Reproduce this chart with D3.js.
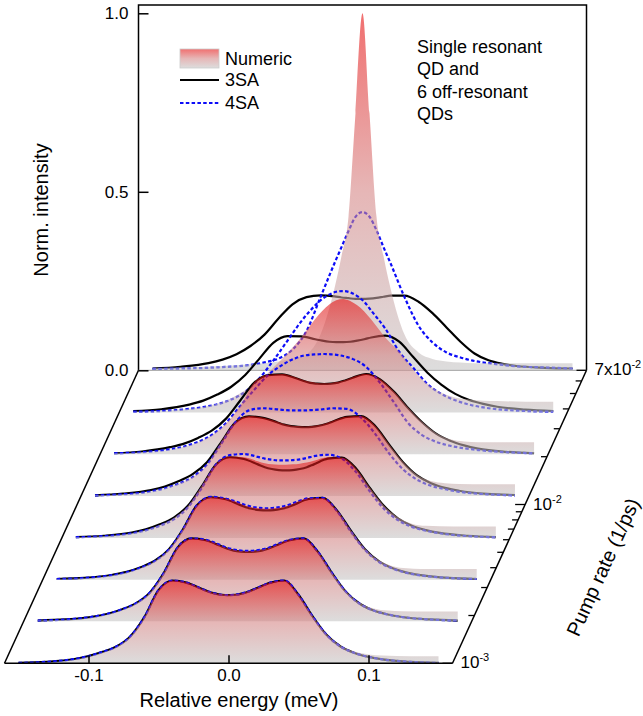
<!DOCTYPE html>
<html>
<head>
<meta charset="utf-8">
<script src="https://cdn.jsdelivr.net/npm/d3@7"></script>
<style>
  body { margin: 0; background: #fff; }
  svg text { font-family: "Liberation Sans", Arial, sans-serif; fill: #000; }
</style>
</head>
<body>
<svg id="chart" width="643" height="716"></svg>
<script>
// relative energy grid (meV) shared by every spectrum
const energies = [-0.15, -0.13, -0.11, -0.10, -0.09, -0.08, -0.07, -0.06, -0.05, -0.04, -0.03, -0.02, -0.015, -0.01, -0.005,
  0, 0.005, 0.01, 0.015, 0.02, 0.03, 0.04, 0.05, 0.06, 0.07, 0.08, 0.09, 0.10, 0.11, 0.13, 0.15];

// pump rates (1/ps), front trace first
const pumpRates = [0.001, 0.00184, 0.00336, 0.00616, 0.0113, 0.0207, 0.038, 0.07];

const numericSpectra = [
  [0.001, 0.003, 0.01, 0.018, 0.03, 0.046, 0.075, 0.13, 0.205, 0.232, 0.227, 0.211, 0.203, 0.197, 0.194, 0.193, 0.194, 0.197, 0.203, 0.211, 0.227, 0.232, 0.193, 0.133, 0.082, 0.05, 0.033, 0.025, 0.022, 0.02, 0.02],
  [0.002, 0.004, 0.011, 0.019, 0.031, 0.049, 0.079, 0.135, 0.207, 0.232, 0.228, 0.213, 0.205, 0.2, 0.197, 0.196, 0.197, 0.2, 0.205, 0.213, 0.228, 0.232, 0.196, 0.137, 0.085, 0.052, 0.036, 0.03, 0.028, 0.027, 0.027],
  [0.002, 0.004, 0.012, 0.02, 0.033, 0.052, 0.084, 0.141, 0.208, 0.232, 0.228, 0.215, 0.207, 0.202, 0.2, 0.199, 0.2, 0.202, 0.207, 0.215, 0.228, 0.229, 0.196, 0.139, 0.088, 0.055, 0.038, 0.032, 0.03, 0.03, 0.03],
  [0.002, 0.005, 0.013, 0.022, 0.036, 0.056, 0.089, 0.146, 0.206, 0.228, 0.226, 0.215, 0.209, 0.206, 0.205, 0.205, 0.206, 0.208, 0.211, 0.216, 0.226, 0.225, 0.196, 0.141, 0.091, 0.058, 0.04, 0.034, 0.033, 0.032, 0.032],
  [0.002, 0.005, 0.013, 0.022, 0.035, 0.054, 0.088, 0.151, 0.206, 0.224, 0.22, 0.209, 0.202, 0.198, 0.196, 0.195, 0.196, 0.199, 0.204, 0.211, 0.223, 0.224, 0.198, 0.146, 0.096, 0.06, 0.042, 0.036, 0.034, 0.033, 0.033],
  [0.003, 0.006, 0.013, 0.021, 0.034, 0.054, 0.087, 0.135, 0.201, 0.223, 0.225, 0.215, 0.208, 0.203, 0.2, 0.199, 0.2, 0.203, 0.208, 0.216, 0.226, 0.211, 0.176, 0.131, 0.091, 0.06, 0.042, 0.036, 0.034, 0.034, 0.034],
  [0.002, 0.004, 0.01, 0.015, 0.024, 0.04, 0.062, 0.088, 0.125, 0.165, 0.21, 0.262, 0.284, 0.302, 0.314, 0.318, 0.312, 0.3, 0.283, 0.26, 0.21, 0.17, 0.12, 0.08, 0.055, 0.042, 0.036, 0.033, 0.032, 0.03, 0.03],
  [0.006, 0.008, 0.01, 0.012, 0.014, 0.017, 0.02, 0.025, 0.033, 0.045, 0.1, 0.23, 0.32, 0.43, 0.72, 1.0, 0.72, 0.43, 0.32, 0.23, 0.1, 0.05, 0.032, 0.025, 0.022, 0.02, 0.02, 0.02, 0.02, 0.02, 0.02]
];

const sa3Spectra = [
  [0.001, 0.004, 0.012, 0.02, 0.032, 0.047, 0.076, 0.13, 0.205, 0.232, 0.226, 0.21, 0.202, 0.196, 0.192, 0.191, 0.192, 0.196, 0.202, 0.21, 0.226, 0.232, 0.192, 0.132, 0.08, 0.047, 0.029, 0.018, 0.011, 0.004, 0.001],
  [0.002, 0.005, 0.013, 0.021, 0.033, 0.05, 0.08, 0.135, 0.207, 0.232, 0.227, 0.212, 0.204, 0.198, 0.195, 0.194, 0.195, 0.198, 0.204, 0.212, 0.227, 0.232, 0.195, 0.136, 0.083, 0.049, 0.03, 0.019, 0.012, 0.005, 0.002],
  [0.002, 0.005, 0.014, 0.022, 0.035, 0.053, 0.085, 0.14, 0.208, 0.231, 0.226, 0.211, 0.203, 0.198, 0.195, 0.194, 0.195, 0.198, 0.203, 0.211, 0.226, 0.229, 0.195, 0.138, 0.086, 0.052, 0.032, 0.02, 0.013, 0.005, 0.002],
  [0.002, 0.006, 0.015, 0.024, 0.038, 0.057, 0.09, 0.145, 0.205, 0.226, 0.221, 0.206, 0.198, 0.193, 0.19, 0.189, 0.19, 0.193, 0.198, 0.206, 0.222, 0.225, 0.195, 0.14, 0.09, 0.055, 0.034, 0.022, 0.014, 0.006, 0.002],
  [0.002, 0.007, 0.017, 0.027, 0.042, 0.062, 0.095, 0.15, 0.205, 0.223, 0.219, 0.207, 0.2, 0.196, 0.194, 0.193, 0.194, 0.197, 0.202, 0.209, 0.222, 0.224, 0.197, 0.145, 0.095, 0.058, 0.036, 0.023, 0.015, 0.006, 0.003],
  [0.003, 0.008, 0.02, 0.03, 0.046, 0.067, 0.1, 0.15, 0.2, 0.222, 0.224, 0.213, 0.206, 0.2, 0.198, 0.197, 0.198, 0.201, 0.207, 0.214, 0.225, 0.21, 0.175, 0.13, 0.09, 0.058, 0.038, 0.025, 0.016, 0.007, 0.003],
  [0.004, 0.009, 0.022, 0.033, 0.05, 0.072, 0.105, 0.15, 0.195, 0.214, 0.213, 0.205, 0.201, 0.198, 0.197, 0.197, 0.198, 0.201, 0.205, 0.21, 0.215, 0.198, 0.155, 0.112, 0.078, 0.052, 0.035, 0.024, 0.016, 0.008, 0.004],
  [0.005, 0.01, 0.02, 0.03, 0.045, 0.068, 0.1, 0.145, 0.185, 0.205, 0.21, 0.207, 0.204, 0.202, 0.2, 0.2, 0.201, 0.203, 0.206, 0.209, 0.209, 0.192, 0.16, 0.12, 0.08, 0.047, 0.028, 0.018, 0.012, 0.007, 0.005]
];

const sa4Spectra = [
  [0.001, 0.004, 0.012, 0.02, 0.032, 0.047, 0.076, 0.13, 0.205, 0.232, 0.226, 0.21, 0.202, 0.196, 0.192, 0.191, 0.192, 0.196, 0.202, 0.21, 0.226, 0.232, 0.192, 0.132, 0.08, 0.047, 0.029, 0.018, 0.011, 0.004, 0.001],
  [0.002, 0.005, 0.013, 0.021, 0.033, 0.05, 0.08, 0.135, 0.207, 0.232, 0.228, 0.214, 0.206, 0.201, 0.198, 0.197, 0.198, 0.201, 0.206, 0.214, 0.228, 0.232, 0.195, 0.136, 0.083, 0.049, 0.03, 0.019, 0.012, 0.005, 0.002],
  [0.002, 0.005, 0.013, 0.021, 0.034, 0.052, 0.084, 0.14, 0.208, 0.232, 0.228, 0.216, 0.209, 0.204, 0.201, 0.2, 0.201, 0.204, 0.209, 0.216, 0.228, 0.229, 0.193, 0.135, 0.084, 0.05, 0.031, 0.019, 0.012, 0.005, 0.002],
  [0.002, 0.005, 0.013, 0.021, 0.034, 0.052, 0.085, 0.14, 0.205, 0.232, 0.235, 0.227, 0.222, 0.219, 0.217, 0.217, 0.218, 0.22, 0.224, 0.229, 0.233, 0.222, 0.185, 0.13, 0.082, 0.05, 0.031, 0.02, 0.013, 0.005, 0.002],
  [0.002, 0.005, 0.013, 0.022, 0.035, 0.054, 0.088, 0.145, 0.205, 0.24, 0.246, 0.243, 0.241, 0.24, 0.24, 0.24, 0.241, 0.242, 0.244, 0.246, 0.244, 0.22, 0.175, 0.12, 0.075, 0.046, 0.029, 0.019, 0.012, 0.005, 0.002],
  [0.003, 0.006, 0.014, 0.022, 0.035, 0.055, 0.088, 0.135, 0.18, 0.222, 0.25, 0.27, 0.276, 0.279, 0.28, 0.281, 0.28, 0.278, 0.274, 0.268, 0.245, 0.2, 0.145, 0.088, 0.054, 0.035, 0.024, 0.017, 0.012, 0.006, 0.003],
  [0.002, 0.004, 0.01, 0.015, 0.023, 0.036, 0.058, 0.095, 0.145, 0.2, 0.255, 0.3, 0.318, 0.33, 0.338, 0.34, 0.336, 0.326, 0.31, 0.285, 0.235, 0.17, 0.125, 0.08, 0.052, 0.034, 0.022, 0.014, 0.009, 0.004, 0.002],
  [0.004, 0.005, 0.007, 0.009, 0.011, 0.015, 0.022, 0.033, 0.058, 0.11, 0.205, 0.3, 0.345, 0.39, 0.43, 0.443, 0.43, 0.392, 0.345, 0.3, 0.205, 0.125, 0.078, 0.05, 0.036, 0.026, 0.02, 0.015, 0.011, 0.008, 0.005]
];

const intensityTicks = [0, 0.5, 1];
const energyTicks = [-0.1, 0, 0.1];
const pumpTicks = [0.001, 0.002, 0.003, 0.004, 0.005, 0.006, 0.007, 0.008, 0.009, 0.01, 0.02, 0.03, 0.04, 0.05, 0.06, 0.07];
const pumpLabelRates = [0.001, 0.01, 0.07];
const pumpLabelBase = ["10", "10", "7x10"];
const pumpLabelExp = ["-3", "-2", "-2"];
const legendLabels = ["Numeric", "3SA", "4SA"];
const noteLines = ["Single resonant", "QD and", "6 off-resonant", "QDs"];

const svg = d3.select("#chart");

// front floor edge and the depth (pump rate) direction
const x = d3.scaleLinear().domain([-0.16, 0.16]).range([4.5, 452.5]);
const floorY = 663.3;
const depth = d3.scaleLog().domain([0.001, 0.07]).range([0, 1]);
const depthDx = 134, depthDy = -293;
const h = d3.scaleLinear().domain([0, 1]).range([0, 357]);

const backLeft = x(-0.16) + depthDx;
const backRight = x(0.16) + depthDx;
const backBase = floorY + depthDy;
const yBack = d3.scaleLinear().domain([0, 1]).range([backBase, backBase - h(1)]);

const blue = "#0c0cf8";
const fillOpacity = 0.58;

const defs = svg.append("defs");
const grad = defs.append("linearGradient")
  .attr("id", "numGrad")
  .attr("x1", 0).attr("y1", 0).attr("x2", 0).attr("y2", 1);
grad.append("stop").attr("offset", "0%").attr("stop-color", "rgb(230,8,8)");
grad.append("stop").attr("offset", "50%").attr("stop-color", "rgb(212,130,130)");
grad.append("stop").attr("offset", "100%").attr("stop-color", "rgb(196,196,196)");

// back wall frame
svg.append("path")
  .attr("d", `M${backLeft},${backBase}V5H${backRight}V${backBase}`)
  .attr("fill", "none").attr("stroke", "#000").attr("stroke-width", 1.5);
svg.append("line")
  .attr("x1", backLeft).attr("x2", backRight)
  .attr("y1", backBase).attr("y2", backBase)
  .attr("stroke", "#999").attr("stroke-width", 1);
svg.append("line")
  .attr("x1", x(-0.16)).attr("y1", floorY)
  .attr("x2", backLeft).attr("y2", backBase)
  .attr("stroke", "#000").attr("stroke-width", 1.5);

// waterfall, drawn from the back trace to the front one;
// the translucent numeric fill goes over the model curves of its own trace
const traces = svg.append("g").attr("class", "traces");
for (let k = pumpRates.length - 1; k >= 0; k--) {
  const t = depth(pumpRates[k]);
  const ox = depthDx * t;
  const base = floorY + depthDy * t;
  const px = (d, i) => x(energies[i]) + ox;
  const py = (d) => base - h(d);

  const line = d3.line().x(px).y(py).curve(d3.curveMonotoneX);
  const area = d3.area().x(px).y0(base).y1(py).curve(d3.curveMonotoneX);

  const g = traces.append("g").attr("class", "trace");
  g.append("path")
    .attr("d", line(sa3Spectra[k]))
    .attr("fill", "none").attr("stroke", "#000").attr("stroke-width", 2.2);
  g.append("path")
    .attr("d", line(sa4Spectra[k]))
    .attr("fill", "none").attr("stroke", blue).attr("stroke-width", 2.2)
    .attr("stroke-dasharray", "3.5,2.3");
  g.append("path")
    .attr("d", area(numericSpectra[k]))
    .attr("fill", "url(#numGrad)").attr("fill-opacity", fillOpacity);
}

// front floor edge with energy axis
svg.append("line")
  .attr("x1", x(-0.16)).attr("x2", x(0.16))
  .attr("y1", floorY).attr("y2", floorY)
  .attr("stroke", "#000").attr("stroke-width", 1.5);

const xAxis = svg.append("g")
  .attr("transform", `translate(0,${floorY})`)
  .call(d3.axisBottom(x).tickValues(energyTicks).tickSize(-8).tickSizeOuter(0).tickPadding(6)
    .tickFormat((d) => d.toFixed(1)));
xAxis.select(".domain").remove();
xAxis.selectAll(".tick line").attr("stroke", "#000").attr("stroke-width", 1.5);
xAxis.selectAll("text").attr("font-size", 17).attr("fill", "#000");

svg.append("text")
  .attr("x", 239).attr("y", 707)
  .attr("text-anchor", "middle").attr("font-size", 20)
  .text("Relative energy (meV)");

// intensity axis on the back wall
const yAxis = svg.append("g")
  .attr("transform", `translate(${backLeft},0)`)
  .call(d3.axisLeft(yBack).tickValues(intensityTicks).tickSize(-10).tickSizeOuter(0).tickPadding(10)
    .tickFormat((d) => d.toFixed(1)));
yAxis.select(".domain").remove();
yAxis.selectAll(".tick line").attr("stroke", "#000").attr("stroke-width", 1.5);
yAxis.selectAll("text").attr("font-size", 17).attr("fill", "#000");

svg.append("text")
  .attr("transform", "translate(48,210) rotate(-90)")
  .attr("text-anchor", "middle").attr("font-size", 20)
  .text("Norm. intensity");

// pump rate axis along the right floor edge
const pumpPoint = (v) => [x(0.16) + depthDx * depth(v), floorY + depthDy * depth(v)];
svg.append("line")
  .attr("x1", x(0.16)).attr("y1", floorY)
  .attr("x2", backRight).attr("y2", backBase)
  .attr("stroke", "#000").attr("stroke-width", 1.5);
svg.append("g").selectAll("line")
  .data(pumpTicks)
  .join("line")
  .attr("x1", (d) => pumpPoint(d)[0])
  .attr("x2", (d) => pumpPoint(d)[0] - (pumpLabelRates.includes(d) ? 10 : 6))
  .attr("y1", (d) => pumpPoint(d)[1])
  .attr("y2", (d) => pumpPoint(d)[1])
  .attr("stroke", "#000").attr("stroke-width", 1.3);

const pumpLabels = svg.append("g").selectAll("text")
  .data(pumpLabelRates)
  .join("text")
  .attr("x", (d) => pumpPoint(d)[0] + 8)
  .attr("y", (d) => pumpPoint(d)[1] + 5)
  .attr("font-size", 17);
pumpLabels.append("tspan").text((d, i) => pumpLabelBase[i]);
pumpLabels.append("tspan").attr("dy", -7).attr("font-size", 11).text((d, i) => pumpLabelExp[i]);

svg.append("text")
  .attr("transform", "translate(603,567) rotate(-65.6)")
  .attr("text-anchor", "middle").attr("dy", "0.35em").attr("font-size", 20)
  .text("Pump rate (1/ps)");

// legend
const legend = svg.append("g").attr("class", "legend");
legend.append("rect")
  .attr("x", 180).attr("y", 49).attr("width", 39).attr("height", 19)
  .attr("fill", "url(#numGrad)").attr("fill-opacity", fillOpacity)
  .attr("stroke", "#ccc").attr("stroke-width", 0.8);
legend.append("line")
  .attr("x1", 180).attr("x2", 219).attr("y1", 80).attr("y2", 80)
  .attr("stroke", "#000").attr("stroke-width", 2.2);
legend.append("line")
  .attr("x1", 180).attr("x2", 219).attr("y1", 103).attr("y2", 103)
  .attr("stroke", blue).attr("stroke-width", 2.2).attr("stroke-dasharray", "3.5,2.3");
legend.selectAll("text")
  .data(legendLabels)
  .join("text")
  .attr("x", 225)
  .attr("y", (d, i) => [65, 86, 109][i])
  .attr("font-size", 18)
  .text((d) => d);

svg.append("g").selectAll("text")
  .data(noteLines)
  .join("text")
  .attr("x", 417)
  .attr("y", (d, i) => 53 + i * 22.3)
  .attr("font-size", 18)
  .text((d) => d);
</script>
</body>
</html>
